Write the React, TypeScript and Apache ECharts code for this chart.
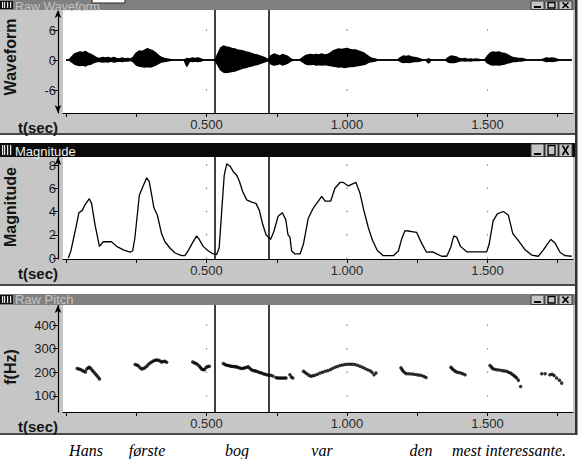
import React, { useEffect, useRef } from "react";
import * as echarts from "echarts";

const W = 581;
const H = 459;

// ---- data ----
const waveStep = 0.01; // seconds between envelope samples (t = 0.00 .. 1.80)
const waveUpper = [
  0, 0, 0.6, 1.2, 1.4, 1.6, 1.5, 1.7, 1.3, 1.1,
  0.8, 0.4, 0.3, 0.5, 0.4, 0.5, 0.3, 0.5, 0.3, 0.2,
  0.4, 0.2, 0.3, 0.2, 0.6, 1.4, 1.8, 1.7, 2.0, 2.3,
  2.0, 1.8, 1.4, 0.9, 0.5, 0.3, 0.2, 0.1, 0, 0,
  0, 0, 0, 0.3, 0.2, 0.4, 0.3, 0.4, 0.2, 0,
  0, 0, 0, 0, 1.2, 2.4, 2.8, 2.6, 2.5, 2.3,
  2.2, 2.0, 1.9, 1.8, 1.6, 1.5, 1.3, 1.1, 1.0, 0.8,
  0.6, 0.4, 0.1, 0.9, 1.2, 1.0, 0.8, 1.1, 0.9, 0.7,
  0.2, 0, 0, 0, 0.4, 0.8, 1.0, 1.1, 1.0, 1.1,
  1.0, 1.2, 1.0, 1.1, 1.4, 1.8, 2.0, 2.2, 2.1, 2.2,
  2.3, 2.1, 2.0, 2.0, 1.8, 1.6, 1.4, 1.0, 0.6, 0.3,
  0.2, 0, 0, 0, 0, 0, 0, 0, 0, 0.5,
  0.8, 0.7, 0.8, 0.6, 0.5, 0.4, 0.2, 0, 0, 0.2,
  0, 0, 0, 0, 0, 0, 0.5, 0.8, 0.7, 0.6,
  0.3, 0.2, 0.3, 0.1, 0.2, 0.1, 0.2, 0.1, 0, 0,
  0.8, 1.4, 1.6, 1.5, 1.6, 1.4, 1.3, 1.1, 0.8, 0.5,
  0.4, 0.3, 0.3, 0.2, 0, 0, 0, 0, 0, 0,
  0.2, 0.4, 0.3, 0.4, 0.3, 0.1, 0, 0, 0, 0,
  0,
];
const waveLower = [
  0, 0, -0.4, -0.8, -1.0, -1.1, -1.0, -1.2, -0.9, -0.8,
  -0.5, -0.3, -0.3, -0.4, -0.3, -0.4, -0.2, -0.4, -0.3, -0.2,
  -0.3, -0.2, -0.2, -0.1, -0.4, -1.0, -1.2, -1.3, -1.4, -1.3,
  -1.4, -1.2, -1.0, -0.7, -0.4, -0.3, -0.2, -0.1, 0, 0,
  0, 0, 0, -1.3, -0.2, -0.3, -0.2, -0.3, -0.2, 0,
  0, 0, 0, 0, -1.0, -2.0, -2.4, -2.5, -2.4, -2.3,
  -2.2, -2.0, -1.8, -1.6, -1.5, -1.3, -1.2, -1.0, -0.9, -0.7,
  -0.5, -0.3, -0.1, -0.8, -1.0, -0.9, -0.7, -1.0, -0.8, -0.6,
  -0.2, 0, 0, 0, -0.3, -0.7, -0.9, -0.9, -0.8, -1.0,
  -0.9, -1.0, -0.9, -1.0, -1.1, -1.2, -1.3, -1.4, -1.3, -1.5,
  -1.4, -1.3, -1.3, -1.2, -1.1, -1.0, -0.9, -0.7, -0.4, -0.3,
  -0.2, 0, 0, 0, 0, 0, 0, 0, 0, -0.3,
  -0.5, -0.4, -0.5, -0.4, -0.3, -0.3, -0.2, 0, 0, -0.6,
  0, 0, 0, 0, 0, 0, -0.4, -0.5, -0.5, -0.4,
  -0.2, -0.1, -0.2, -0.1, -0.2, -0.1, -0.1, -0.1, 0, 0,
  -0.6, -0.9, -1.0, -0.9, -1.0, -0.9, -0.8, -0.6, -0.5, -0.3,
  -0.3, -0.2, -0.2, -0.1, 0, 0, 0, 0, 0, 0,
  -0.1, -0.3, -0.2, -0.3, -0.2, -0.1, 0, 0, 0, 0,
  0,
];

const magnitude: [number, number][] = [
  [0.008, 0], [0.017, 0.57], [0.035, 2.6], [0.046, 3.9], [0.058, 4.1], [0.068, 4.6],
  [0.083, 5.1], [0.091, 4.7], [0.103, 2.9], [0.119, 1.0], [0.133, 1.4], [0.162, 1.4],
  [0.18, 1.0], [0.204, 0.7], [0.228, 0.5], [0.237, 0.6], [0.245, 1.7], [0.261, 5.4],
  [0.273, 6.1], [0.287, 6.9], [0.296, 6.6], [0.305, 5.4], [0.313, 4.3], [0.325, 3.7],
  [0.34, 2.1], [0.352, 1.4], [0.37, 0.86], [0.388, 0.43], [0.412, 0.2], [0.423, 0.2],
  [0.435, 0.63], [0.45, 1.3], [0.465, 1.9], [0.474, 1.6], [0.488, 1.0], [0.506, 0.63],
  [0.522, 0.37], [0.536, 0.3], [0.545, 0.86], [0.554, 4.0], [0.563, 7.1], [0.572, 8.1],
  [0.584, 7.9], [0.596, 7.4], [0.608, 7.1], [0.617, 6.6], [0.629, 5.7], [0.643, 5.0],
  [0.661, 4.8], [0.676, 4.7], [0.688, 4.1], [0.7, 2.9], [0.712, 2.0], [0.728, 1.6],
  [0.74, 2.3], [0.755, 3.6], [0.77, 3.9], [0.782, 3.3], [0.79, 2.0], [0.797, 1.8],
  [0.803, 0.6], [0.815, 0.35], [0.833, 0.35], [0.845, 1.2], [0.862, 3.4], [0.88, 4.3],
  [0.898, 4.9], [0.91, 5.3], [0.922, 4.9], [0.942, 4.9], [0.957, 6.0], [0.975, 6.5],
  [0.987, 6.5], [1.005, 6.2], [1.022, 6.4], [1.032, 6.5], [1.046, 5.6], [1.06, 4.1],
  [1.076, 2.6], [1.091, 1.5], [1.108, 0.65], [1.129, 0.2], [1.165, 0.2], [1.183, 0.6],
  [1.194, 1.6], [1.206, 2.35], [1.224, 2.3], [1.248, 2.2], [1.265, 1.3], [1.283, 0.5],
  [1.305, 0.53], [1.319, 0.35], [1.337, 0.15], [1.355, 0.15], [1.369, 0.9], [1.38, 1.9],
  [1.39, 1.8], [1.404, 1.0], [1.426, 0.53], [1.497, 0.53], [1.506, 1.2], [1.52, 3.2],
  [1.535, 3.8], [1.556, 4.0], [1.574, 3.7], [1.59, 2.1], [1.61, 1.5], [1.634, 0.7],
  [1.657, 0.25], [1.681, 0.15], [1.699, 0.7], [1.713, 1.2], [1.726, 1.6], [1.74, 1.3],
  [1.758, 0.5], [1.776, 0.2], [1.8, 0.15],
];

const pitch: [number, number][] = [
  // Hans
  [0.040, 216], [0.046, 214], [0.052, 212], [0.058, 208], [0.064, 204], [0.069, 201],
  [0.074, 214], [0.079, 219], [0.084, 221], [0.089, 215], [0.094, 208], [0.099, 201],
  [0.104, 194], [0.109, 187], [0.114, 180], [0.119, 172],
  // første
  [0.246, 233], [0.252, 231], [0.257, 228], [0.263, 220], [0.269, 214], [0.275, 216],
  [0.281, 219], [0.287, 226], [0.293, 233], [0.299, 239], [0.305, 244], [0.311, 248],
  [0.317, 251], [0.323, 252], [0.329, 251], [0.335, 248], [0.340, 244], [0.346, 246],
  [0.352, 247], [0.358, 243],
  // before bog
  [0.451, 244], [0.457, 240], [0.463, 237], [0.469, 232], [0.475, 226], [0.479, 219],
  [0.483, 214], [0.488, 211], [0.493, 212], [0.498, 220], [0.504, 224], [0.510, 226],
  // bog
  [0.560, 237], [0.566, 233], [0.572, 230], [0.578, 229], [0.584, 227], [0.589, 226],
  [0.595, 225], [0.601, 224], [0.607, 223], [0.613, 220], [0.619, 218], [0.625, 216],
  [0.631, 217], [0.637, 219], [0.643, 221], [0.649, 223], [0.655, 216], [0.660, 211],
  [0.666, 208], [0.672, 206], [0.678, 204], [0.684, 201], [0.690, 199], [0.696, 197],
  [0.702, 194], [0.708, 192], [0.714, 190], [0.721, 188], [0.728, 187], [0.736, 184],
  [0.747, 178], [0.753, 176], [0.759, 176], [0.765, 176], [0.771, 176], [0.777, 176],
  [0.783, 176], [0.797, 190], [0.802, 180], [0.807, 176],
  // var
  [0.845, 204], [0.851, 199], [0.857, 194], [0.864, 188], [0.871, 183], [0.878, 185],
  [0.886, 187], [0.895, 192], [0.904, 197], [0.913, 200], [0.922, 204], [0.931, 207],
  [0.940, 211], [0.948, 216], [0.957, 221], [0.966, 225], [0.975, 229], [0.984, 231],
  [0.993, 233], [1.002, 234], [1.011, 234], [1.019, 234], [1.028, 233], [1.037, 230],
  [1.046, 226], [1.055, 221], [1.064, 216], [1.073, 211], [1.082, 207], [1.089, 200],
  [1.096, 190], [1.103, 197],
  // den
  [1.192, 219], [1.196, 212], [1.200, 204], [1.206, 198], [1.212, 194], [1.221, 194],
  [1.230, 193], [1.239, 192], [1.248, 190], [1.257, 188], [1.266, 186], [1.274, 182],
  [1.281, 178],
  // mest
  [1.370, 221], [1.374, 216], [1.378, 211], [1.384, 206], [1.390, 201], [1.397, 199],
  [1.405, 197], [1.412, 194], [1.420, 190],
  // interessante
  [1.509, 229], [1.514, 222], [1.518, 216], [1.525, 213], [1.533, 211], [1.542, 210],
  [1.551, 208], [1.559, 206], [1.568, 204], [1.575, 200], [1.582, 197], [1.588, 192],
  [1.594, 186], [1.599, 181], [1.604, 176], [1.610, 166], [1.618, 140],
  [1.693, 194], [1.705, 194], [1.722, 190], [1.730, 192], [1.737, 186], [1.746, 176],
  [1.756, 166], [1.764, 154],
];

const xTicks = [0, 0.25, 0.5, 0.75, 1.0, 1.25, 1.5, 1.75];
const xLabels = [0.5, 1.0, 1.5];
const waveTicks = [-6, 0, 6];
const magTicks = [0, 2, 4, 6, 8];
const pitchTicks = [100, 200, 300, 400];
const cursors = [0.525, 0.721];
const words = ["Hans", "første", "bog", "var", "den", "mest interessante."];
const panelTitles = ["Raw Waveform", "Magnitude", "Raw Pitch"];
const yNames = ["Waveform", "Magnitude", "f(Hz)"];
const xName = "t(sec)";

// ---- layout ----
const SANS = '"Liberation Sans", Arial, sans-serif';
const SERIF = '"Liberation Serif", "Times New Roman", serif';
const PLOT_L = 63;
const PLOT_R = 573;
const X_MIN = -0.0107;
const X_MAX = 1.8043;
const wordX = [86, 147, 237, 322, 421, 452];

const panels = [
  {
    titleTop: 0, titleBottom: 10, plotTop: 10, plotBottom: 113, bottom: 133,
    titleBg: "#808080", titleColor: "#c4c4c4", titleFont: 12.5,
    ymin: -10.6, ymax: 10, ticks: waveTicks, arrows: ["arrow", "arrow"], nameY: 57,
  },
  {
    titleTop: 143, titleBottom: 157, plotTop: 157, plotBottom: 259, bottom: 284,
    titleBg: "#0a0a0a", titleColor: "#f0f0f0", titleFont: 13,
    ymin: -0.086, ymax: 8.69, ticks: magTicks, arrows: ["none", "arrow"], nameY: 207,
  },
  {
    titleTop: 294, titleBottom: 305, plotTop: 305, plotBottom: 412, bottom: 433,
    titleBg: "#808080", titleColor: "#c4c4c4", titleFont: 13,
    ymin: 31.4, ymax: 485.7, ticks: pitchTicks, arrows: ["none", "arrow"], nameY: 367,
  },
];

function txt(x: number, y: number, text: string, font: string, fill: string, align: string, valign: string, extra: any = {}) {
  return {
    type: "text", x, y, z: 20, silent: true, ...extra,
    style: { text, font, fill, align, verticalAlign: valign, textAlign: align, textVerticalAlign: valign },
  };
}

function buildGraphics() {
  const g: any[] = [];
  panels.forEach((p, i) => {
    // panel body
    g.push({ type: "rect", z: -10, silent: true, shape: { x: 0, y: p.titleTop, width: 576, height: p.bottom - p.titleTop }, style: { fill: "#c6c6c6" } });
    g.push({ type: "rect", z: -9, silent: true, shape: { x: PLOT_L, y: p.plotTop, width: PLOT_R - PLOT_L, height: p.plotBottom - p.plotTop }, style: { fill: "#ffffff" } });
    g.push({ type: "rect", z: -9, silent: true, shape: { x: 0, y: p.bottom, width: 577, height: 2 }, style: { fill: "#4a4a4a" } });
    // title bar
    g.push({ type: "rect", z: 10, silent: true, shape: { x: 0, y: p.titleTop, width: 576, height: p.titleBottom - p.titleTop }, style: { fill: p.titleBg } });
    // icon
    const ih = p.titleBottom - p.titleTop - 2;
    g.push({ type: "rect", z: 11, silent: true, shape: { x: 0, y: p.titleTop + 1, width: 13, height: ih }, style: { fill: "#111" } });
    [2, 4, 7, 10].forEach((dx) => {
      g.push({ type: "rect", z: 12, silent: true, shape: { x: dx, y: p.titleTop + 2, width: 1.2, height: ih - 2 }, style: { fill: "#e8e8e8" } });
    });
    if (i === 0) {
      g.push(txt(15, 0, panelTitles[i], `${p.titleFont}px ${SANS}`, p.titleColor, "left", "top"));
    } else {
      g.push(txt(15, p.titleBottom + 0.5, panelTitles[i], `${p.titleFont}px ${SANS}`, p.titleColor, "left", "bottom"));
    }
    // buttons
    const by = p.titleTop + 1;
    const bh = p.titleBottom - p.titleTop - 1.5;
    [531, 545, 559].forEach((bx, k) => {
      g.push({ type: "rect", z: 12, silent: true, shape: { x: bx, y: by, width: 13, height: bh }, style: { fill: "#c4c4c4", stroke: "#3a3a3a", lineWidth: 1 } });
      if (k === 0) {
        g.push({ type: "rect", z: 13, silent: true, shape: { x: bx + 3, y: by + bh - 3.5, width: 7, height: 2 }, style: { fill: "#000" } });
      } else if (k === 1) {
        g.push({ type: "rect", z: 13, silent: true, shape: { x: bx + 3, y: by + 1.5, width: 7, height: bh - 3 }, style: { fill: "none", stroke: "#000", lineWidth: 1.3 } });
      } else {
        g.push({ type: "line", z: 13, silent: true, shape: { x1: bx + 3.5, y1: by + 1.5, x2: bx + 9.5, y2: by + bh - 1.5 }, style: { stroke: "#000", lineWidth: 1.6 } });
        g.push({ type: "line", z: 13, silent: true, shape: { x1: bx + 9.5, y1: by + 1.5, x2: bx + 3.5, y2: by + bh - 1.5 }, style: { stroke: "#000", lineWidth: 1.6 } });
      }
    });
    // axis names
    g.push(txt(10, p.nameY, yNames[i], `bold 16px ${SANS}`, "#151515", "center", "middle", { rotation: Math.PI / 2 }));
    g.push(txt(58, p.plotBottom + 14, xName, `bold 15px ${SANS}`, "#151515", "right", "middle"));
  });
  // white box over first title bar
  g.push({ type: "rect", z: 14, silent: true, shape: { x: 92, y: -1, width: 33, height: 4 }, style: { fill: "#fff", stroke: "#222", lineWidth: 1 } });
  // right border
  g.push({ type: "rect", z: 15, silent: true, shape: { x: 575, y: 0, width: 2.5, height: 435 }, style: { fill: "#333" } });
  // words
  words.forEach((w, i) => {
    const align = i === words.length - 1 ? "left" : "center";
    g.push(txt(wordX[i], 450, w, `italic 16px ${SERIF}`, "#000", align, "middle"));
  });
  return g;
}

function buildOption(): any {
  const grid = panels.map((p) => ({
    left: PLOT_L, top: p.plotTop, width: PLOT_R - PLOT_L, height: p.plotBottom - p.plotTop,
    show: false, containLabel: false,
  }));
  const xAxis = panels.map((_, i) => ({
    type: "value", gridIndex: i, min: X_MIN, max: X_MAX,
    axisLine: { show: true, onZero: false, lineStyle: { color: "#000", width: 1 } },
    axisTick: { show: true, customValues: xTicks, length: 4, lineStyle: { color: "#000" } },
    axisLabel: {
      show: true, customValues: xLabels, formatter: (v: number) => v.toFixed(3),
      fontSize: 13, fontFamily: SANS, color: "#2a2a2a", margin: 5,
    },
    splitLine: { show: false },
  }));
  const yAxis = panels.map((p, i) => ({
    type: "value", gridIndex: i, min: p.ymin, max: p.ymax, offset: 5,
    axisLine: { show: true, onZero: false, symbol: p.arrows, symbolSize: [5, 8], lineStyle: { color: "#000", width: 1.2 } },
    axisTick: { show: true, customValues: p.ticks, length: 5, lineStyle: { color: "#000" } },
    axisLabel: { show: true, customValues: p.ticks, fontSize: 13, fontFamily: SANS, color: "#1a1a1a", margin: 2 },
    splitLine: { show: false },
  }));
  const cursorLine = {
    silent: true, symbol: ["none", "none"], label: { show: false },
    lineStyle: { color: "#000", width: 1.5, type: "solid" },
    emphasis: { disabled: true },
    data: cursors.map((c) => ({ xAxis: c })),
  };
  const dots = (i: number, ticks: number[]) => ({
    type: "scatter", xAxisIndex: i, yAxisIndex: i, symbolSize: 1.6, silent: true,
    itemStyle: { color: "#8a8a8a" }, z: 1,
    data: xLabels.flatMap((x) => ticks.map((y) => [x, y])),
  });
  const series: any[] = [
    dots(0, waveTicks),
    dots(1, magTicks),
    dots(2, pitchTicks),
    {
      type: "line", xAxisIndex: 0, yAxisIndex: 0, symbol: "none", silent: true,
      data: waveUpper.map((v, i) => [i * waveStep, v]),
      lineStyle: { color: "#000", width: 1.4 }, areaStyle: { color: "#000", opacity: 1 },
      markLine: cursorLine,
    },
    {
      type: "line", xAxisIndex: 0, yAxisIndex: 0, symbol: "none", silent: true,
      data: waveLower.map((v, i) => [i * waveStep, v]),
      lineStyle: { color: "#000", width: 1.4 }, areaStyle: { color: "#000", opacity: 1 },
    },
    {
      type: "line", xAxisIndex: 1, yAxisIndex: 1, symbol: "none", silent: true,
      data: magnitude, lineStyle: { color: "#000", width: 1.3 },
      markLine: cursorLine,
    },
    {
      type: "scatter", xAxisIndex: 2, yAxisIndex: 2, symbolSize: 3.5, silent: true,
      data: pitch, itemStyle: { color: "#000" },
      markLine: cursorLine,
    },
  ];
  return {
    animation: false,
    backgroundColor: "transparent",
    grid, xAxis, yAxis, series,
    graphic: { elements: buildGraphics() },
  };
}

export default function App() {
  const ref = useRef<HTMLDivElement>(null);
  useEffect(() => {
    if (!ref.current) return;
    const chart = echarts.init(ref.current, null, { renderer: "svg" });
    chart.setOption(buildOption());
    return () => chart.dispose();
  }, []);
  return (
    <div
      ref={ref}
      style={{ position: "absolute", left: 0, top: 0, width: W, height: H, background: "#fff" }}
    />
  );
}
